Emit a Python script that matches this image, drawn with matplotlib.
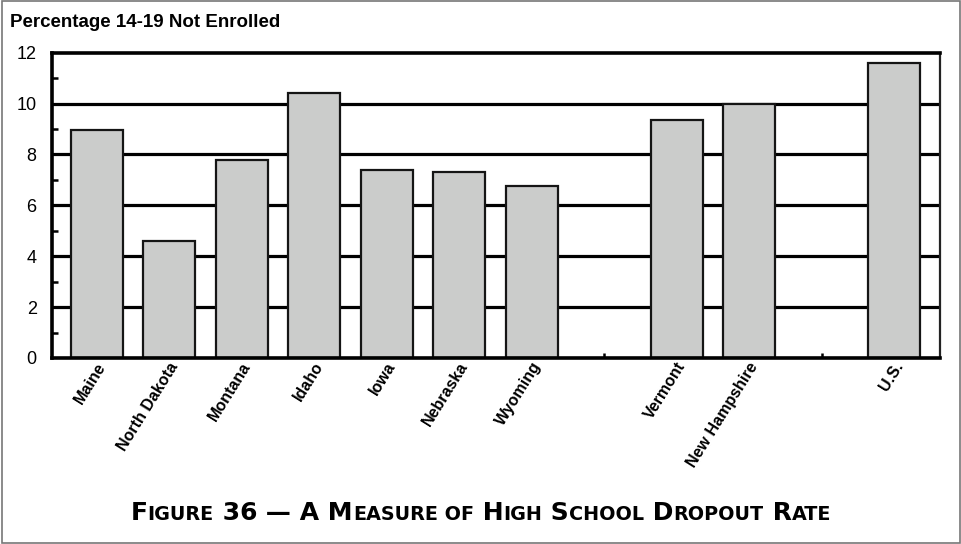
import matplotlib
matplotlib.use("Agg")
import matplotlib.pyplot as plt
from matplotlib.ticker import MultipleLocator
from matplotlib.patches import Rectangle
from matplotlib.transforms import ScaledTranslation

states = ["Maine", "North Dakota", "Montana", "Idaho", "Iowa", "Nebraska",
          "Wyoming", "Vermont", "New Hampshire", "U.S."]
slots = [0, 1, 2, 3, 4, 5, 6, 8, 9, 11]
values = [8.95, 4.6, 7.8, 10.4, 7.4, 7.3, 6.75, 9.35, 10.0, 11.6]
yticks = [0, 2, 4, 6, 8, 10, 12]
n_slots = 12
caption_words = ["Figure", "36", "\u2014", "A", "Measure", "of", "High", "School", "Dropout", "Rate"]

fig = plt.figure(figsize=(9.62, 5.44), dpi=100)
fig.patches.append(Rectangle((0.002, 0.002), 0.996, 0.996, transform=fig.transFigure,
                             fill=False, edgecolor="#777777", linewidth=1.2))
ax = fig.add_axes([0.054, 0.342, 0.923, 0.561])

for y in yticks[1:-1]:
    ax.axhline(y, color="black", linewidth=2.3, zorder=1)

ax.bar(slots, values, width=0.72, color="#cbcccb", edgecolor="#151515",
       linewidth=1.6, zorder=2)

ax.set_xlim(-0.62, n_slots - 0.37)
ax.set_ylim(0, 12)
ax.set_yticks(yticks)
ax.set_yticklabels([str(v) for v in yticks], fontsize=13, family="Liberation Sans")
ax.yaxis.set_minor_locator(MultipleLocator(1))
ax.tick_params(axis="y", which="major", length=0, pad=11)
ax.tick_params(axis="y", which="minor", direction="in", length=4, width=1.8)

ax.set_xticks(range(n_slots))
labels = [""] * n_slots
for s, name in zip(slots, states):
    labels[s] = name
ax.set_xticklabels(labels, rotation=58, ha="right", rotation_mode="anchor",
                   fontsize=11.5, fontweight="bold", family="Liberation Sans")
ax.tick_params(axis="x", direction="in", length=3.5, width=1.8, pad=4)
offset = ScaledTranslation(4 / 72, 0, fig.dpi_scale_trans)
for lab in ax.get_xticklabels():
    lab.set_va("center")
    lab.set_transform(lab.get_transform() + offset)

for side in ["left", "top", "bottom"]:
    ax.spines[side].set_linewidth(2.6)
    ax.spines[side].set_zorder(5)
ax.spines["right"].set_linewidth(1.6)
ax.spines["right"].set_color("#222222")
for t in ax.xaxis.get_major_ticks():
    t.tick1line.set_zorder(6)

fig.text(0.010, 0.958, "Percentage 14-19 Not Enrolled", fontsize=13.5,
         fontweight="bold", family="Liberation Sans",
         ha="left", va="center")

# Caption in small caps, built from sequential text pieces
big, small = 18, 13.8
pieces = []
for i, w in enumerate(caption_words):
    prefix = " " if i > 0 else ""
    if w[0].isalpha() and w[0].isupper():
        pieces.append((prefix + w[0], big))
        if len(w) > 1:
            pieces.append((w[1:].upper(), small))
    elif w[0].isalpha():
        pieces.append((prefix + w.upper(), small))
    else:
        pieces.append((prefix + w, big))

caption_font = "DejaVu Sans"
fig.canvas.draw()
renderer = fig.canvas.get_renderer()
made = []
x = 0.0
for txt, size in pieces:
    t = fig.text(x, 0.045, txt, fontsize=size, fontweight="bold",
                 family=caption_font, ha="left", va="baseline")
    bb = t.get_window_extent(renderer=renderer)
    x += bb.width / fig.bbox.width
    made.append(t)
total = x
start = 0.5 - total / 2
for t in made:
    px, py = t.get_position()
    t.set_position((px + start, py))

fig.savefig("out.png", dpi=100)
